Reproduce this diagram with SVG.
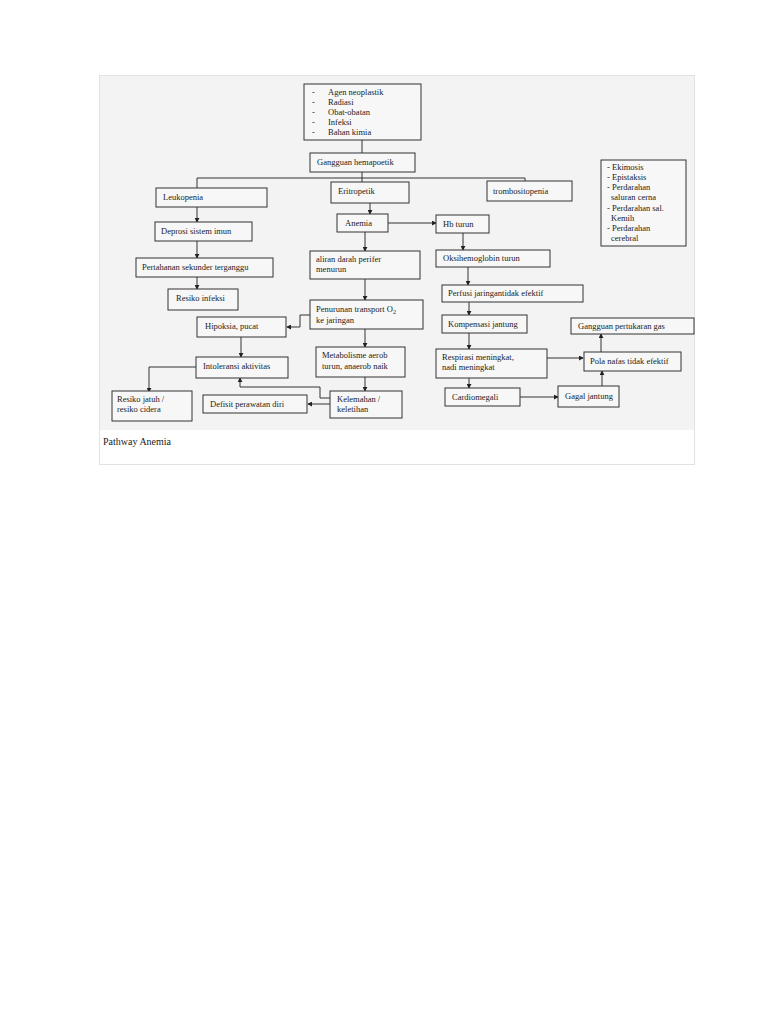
<svg xmlns="http://www.w3.org/2000/svg" width="768" height="1024" viewBox="0 0 768 1024">
<defs>
<marker id="ah" viewBox="0 0 6 6" refX="5" refY="3" markerWidth="5" markerHeight="5" orient="auto"><path d="M0,0L6,3L0,6z" fill="#222"/></marker>
</defs>
<style>
rect.n{fill:#f7f7f7;stroke:#333;stroke-width:1}
text{font-family:"Liberation Serif",serif;font-size:8.5px;fill:#222}
.c path{fill:none;stroke:#333;stroke-width:1}
.c path.a{marker-end:url(#ah)}
</style>
<rect x="0" y="0" width="768" height="1024" fill="#fff"/>
<rect x="99.5" y="75.5" width="595" height="389" fill="#fff" stroke="#e2e2e2"/>
<rect x="100" y="76" width="594" height="354" fill="#f3f3f3"/>
<g class="c">
<path d="M362,140V153"/>
<path d="M362,172V182"/>
<path d="M197,188V178H525V181"/>
<path class="a" d="M370,203V214"/>
<path class="a" d="M388,223H436"/>
<path class="a" d="M463,233V250"/>
<path class="a" d="M468,267V285"/>
<path class="a" d="M469,302V315"/>
<path class="a" d="M469,333V349"/>
<path class="a" d="M469,378V388"/>
<path class="a" d="M547,358H583"/>
<path class="a" d="M520,397H558"/>
<path class="a" d="M602,386V371"/>
<path class="a" d="M601,352V334"/>
<path class="a" d="M197,207V222"/>
<path class="a" d="M197,241V258"/>
<path class="a" d="M197,277V289"/>
<path class="a" d="M365,232V251"/>
<path class="a" d="M365,279V300"/>
<path class="a" d="M310,315H300V327H287"/>
<path class="a" d="M241,337V357"/>
<path class="a" d="M365,329V347"/>
<path class="a" d="M365,377V391"/>
<path class="a" d="M196,367H149V392"/>
<path class="a" d="M330,404H308"/>
<path class="a" d="M330,398H320V387H240V378"/>
</g>
<g id="n-causes"><rect class="n" x="304" y="84" width="117" height="56"/>
<text x="312" y="95">-</text><text x="328" y="95">Agen neoplastik</text>
<text x="312" y="105">-</text><text x="328" y="105">Radiasi</text>
<text x="312" y="115">-</text><text x="328" y="115">Obat-obatan</text>
<text x="312" y="125">-</text><text x="328" y="125">Infeksi</text>
<text x="312" y="135">-</text><text x="328" y="135">Bahan kimia</text></g>
<g id="n-gangguan"><rect class="n" x="310" y="153" width="105" height="19"/><text x="317" y="165">Gangguan hemapoetik</text></g>
<g id="n-leuko"><rect class="n" x="156" y="188" width="111" height="19"/><text x="163" y="200">Leukopenia</text></g>
<g id="n-eritro"><rect class="n" x="331" y="182" width="78" height="21"/><text x="338" y="194">Eritropetik</text></g>
<g id="n-trombo"><rect class="n" x="487" y="181" width="85" height="20"/><text x="493" y="194">trombositopenia</text></g>
<g id="n-ekimosis"><rect class="n" x="601" y="160" width="85" height="86"/>
<text x="607" y="170">- Ekimosis</text><text x="607" y="180">- Epistaksis</text><text x="607" y="190">- Perdarahan</text><text x="611" y="200">saluran cerna</text><text x="607" y="211">- Perdarahan sal.</text><text x="611" y="221">Kemih</text><text x="607" y="231">- Perdarahan</text><text x="611" y="241">cerebral</text></g>
<g id="n-anemia"><rect class="n" x="337" y="214" width="51" height="18"/><text x="345" y="226">Anemia</text></g>
<g id="n-hb"><rect class="n" x="436" y="215" width="53" height="18"/><text x="443" y="227">Hb turun</text></g>
<g id="n-deprosi"><rect class="n" x="155" y="222" width="97" height="19"/><text x="161" y="234">Deprosi sistem imun</text></g>
<g id="n-pertahanan"><rect class="n" x="136" y="258" width="137" height="19"/><text x="142" y="270">Pertahanan sekunder  terganggu</text></g>
<g id="n-resikoinf"><rect class="n" x="168" y="289" width="70" height="21"/><text x="176" y="301">Resiko infeksi</text></g>
<g id="n-aliran"><rect class="n" x="310" y="251" width="110" height="28"/><text x="316" y="262">aliran darah perifer</text><text x="316" y="272">menurun</text></g>
<g id="n-oksi"><rect class="n" x="436" y="250" width="114" height="17"/><text x="443" y="261">Oksihemoglobin turun</text></g>
<g id="n-perfusi"><rect class="n" x="442" y="285" width="141" height="17"/><text x="448" y="296">Perfusi jaringantidak efektif</text></g>
<g id="n-penurunan"><rect class="n" x="310" y="300" width="113" height="29"/><text x="316" y="312">Penurunan  transport O<tspan font-size="6" dy="2">2</tspan></text><text x="316" y="323">ke jaringan</text></g>
<g id="n-hipoksia"><rect class="n" x="197" y="317" width="89" height="20"/><text x="205" y="329">Hipoksia, pucat</text></g>
<g id="n-kompensasi"><rect class="n" x="442" y="315" width="85" height="18"/><text x="448" y="327">Kompensasi jantung</text></g>
<g id="n-gas"><rect class="n" x="571" y="318" width="123" height="16"/><text x="578" y="329">Gangguan pertukaran gas</text></g>
<g id="n-metab"><rect class="n" x="316" y="347" width="89" height="30"/><text x="322" y="358">Metabolisme aerob</text><text x="322" y="369">turun, anaerob naik</text></g>
<g id="n-respirasi"><rect class="n" x="436" y="349" width="111" height="29"/><text x="442" y="360">Respirasi meningkat,</text><text x="442" y="370">nadi meningkat</text></g>
<g id="n-pola"><rect class="n" x="584" y="352" width="97" height="19"/><text x="590" y="364">Pola nafas tidak efektif</text></g>
<g id="n-intoleransi"><rect class="n" x="196" y="357" width="92" height="21"/><text x="203" y="369">Intoleransi aktivitas</text></g>
<g id="n-jatuh"><rect class="n" x="112" y="391" width="80" height="30"/><text x="117" y="402">Resiko jatuh /</text><text x="117" y="412">resiko cidera</text></g>
<g id="n-defisit"><rect class="n" x="203" y="395" width="104" height="18"/><text x="210" y="407">Defisit perawatan diri</text></g>
<g id="n-kelemahan"><rect class="n" x="330" y="391" width="72" height="27"/><text x="337" y="402">Kelemahan /</text><text x="337" y="412">keletihan</text></g>
<g id="n-cardio"><rect class="n" x="445" y="388" width="75" height="18"/><text x="452" y="400">Cardiomegali</text></g>
<g id="n-gagal"><rect class="n" x="558" y="386" width="61" height="21"/><text x="565" y="399">Gagal jantung</text></g>
<text x="103" y="445" style="font-size:10px">Pathway Anemia</text>
</svg>
